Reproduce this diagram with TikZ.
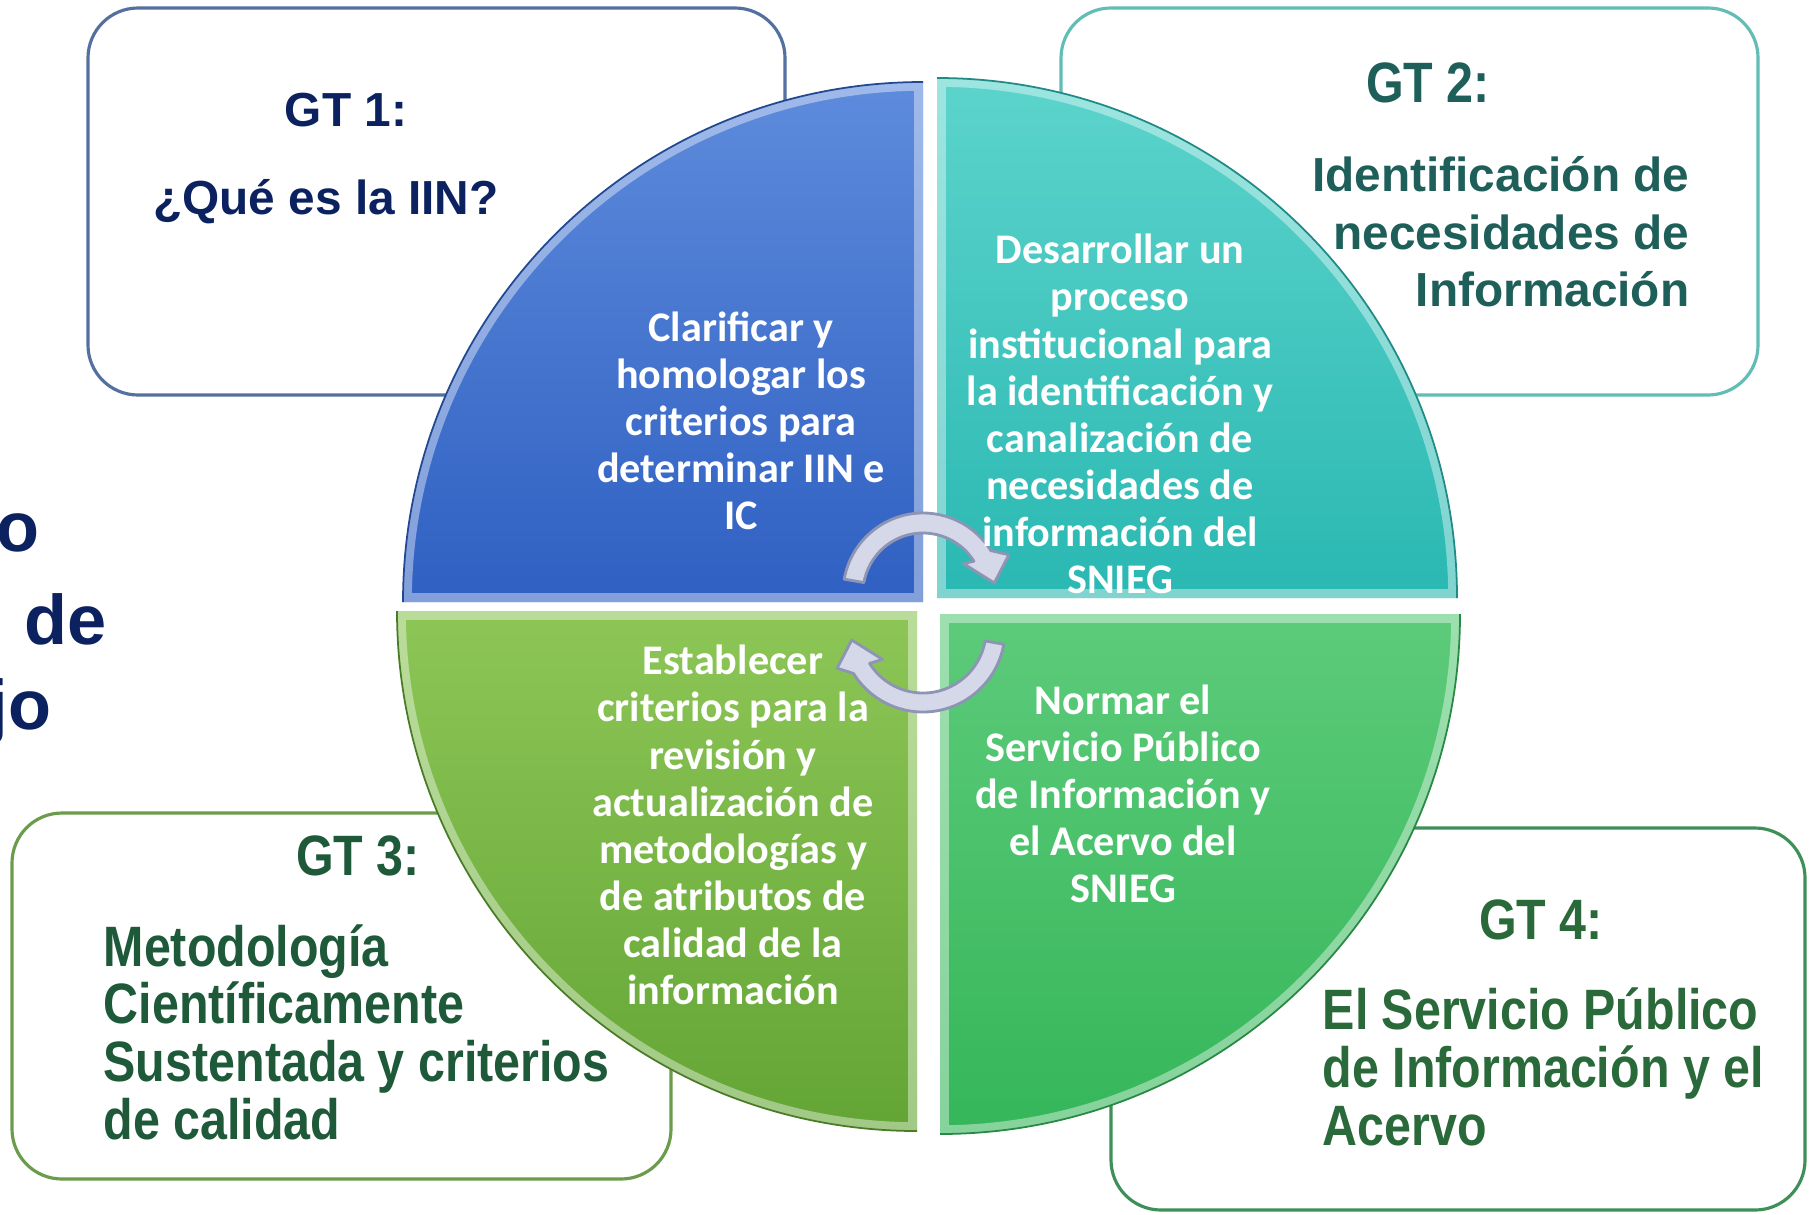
\documentclass[tikz,border=0pt]{standalone}
\usepackage{fontspec}
\setmainfont{Liberation Sans}
\newfontfamily\narrowfont[FakeStretch=0.85]{Liberation Sans}
\newfontfamily\quadfont{Carlito}
\usetikzlibrary{calc}
\definecolor{navy}{HTML}{0C2260}
\definecolor{gt1line}{HTML}{5470A0}
\definecolor{gt2line}{HTML}{62BDB5}
\definecolor{gt3line}{HTML}{6A9C4C}
\definecolor{gt4line}{HTML}{3E8F58}
\definecolor{gt2text}{HTML}{1F5F5A}
\definecolor{gt3text}{HTML}{1E5A3A}
\definecolor{gt4text}{HTML}{2A6A3A}
\definecolor{q1t}{HTML}{5E8BDC}
\definecolor{q1b}{HTML}{2F60C2}
\definecolor{q2t}{HTML}{5CD4CC}
\definecolor{q2b}{HTML}{2AB8B2}
\definecolor{q3t}{HTML}{8DC657}
\definecolor{q3b}{HTML}{63A535}
\definecolor{q4t}{HTML}{5DCB7A}
\definecolor{q4b}{HTML}{35B65A}
\definecolor{arrowfill}{HTML}{D5D8E8}
\definecolor{arrowedge}{HTML}{8E94B4}
\begin{document}
\begin{tikzpicture}[x=0.1mm, y=-0.1mm,
  box/.style={fill=white, line width=.9pt, rounded corners=5mm},
  head/.style={inner sep=0pt, font=\bfseries\fontsize{13.6}{16.4}\selectfont},
  narrow/.style={inner sep=0pt, font=\narrowfont\bfseries\fontsize{16.2}{16.4}\selectfont},
  title/.style={inner sep=0pt, text=navy, font=\bfseries\fontsize{20}{24}\selectfont},
  quadtext/.style={inner sep=0pt, text=white, align=center, font=\quadfont\bfseries\fontsize{12}{13.4}\selectfont},
  arrowband/.style={fill=arrowfill, draw=arrowedge, line width=.8pt, line join=round}]
\useasboundingbox (0,0) rectangle (1809,1214);
\clip (0,0) rectangle (1809,1214);
\fill[white] (0,0) rectangle (1809,1214);
% boxes behind the circle
\draw[box, draw=gt1line] (88,8) rectangle (785,395);
\draw[box, draw=gt2line] (1061,8) rectangle (1758,395);
\draw[box, draw=gt3line] (12,813) rectangle (671,1179);
\draw[box, draw=gt4line] (1111,828) rectangle (1805,1210);
% title cut at the left edge
\node[title, anchor=base east] (tit1) at (40,551) {o};
\node[title, anchor=base east] (tit2) at (107,644) {de};
\node[title, anchor=base east] (tit3) at (52,729) {jo};
% four quarters
\foreach \cx/\cy/\a/\ct/\cb in {923/602/180/q1t/q1b, 937/598/270/q2t/q2b, 940/614/0/q4t/q4b, 917/611/90/q3t/q3b} {
  \begin{scope}
    \clip (\cx,\cy) -- ++(\a:520) arc[start angle=\a, delta angle=90, radius=520] -- cycle;
    \shade[top color=\ct, bottom color=\cb] (\cx,\cy) -- ++(\a:520) arc[start angle=\a, delta angle=90, radius=520] -- cycle;
    \draw[white, opacity=.4, line width=5pt] (\cx,\cy) -- ++(\a:520) arc[start angle=\a, delta angle=90, radius=520] -- cycle;
  \end{scope}
  \draw[\cb!75!black, line width=.5pt] (\cx,\cy) ++(\a:520) arc[start angle=\a, delta angle=90, radius=520];
}
% round arrows
\coordinate (tc) at (923,593);
\coordinate (bc) at (923,630);
\filldraw[arrowband] ($(tc)+(190:80)$) arc[start angle=190, end angle=328, radius=80]
  -- ($(tc)+(336:94)$) -- ($(tc)+(352:72)$) -- ($(tc)+(324:50)$)
  -- ($(tc)+(328:60)$) arc[start angle=328, end angle=190, radius=60] -- cycle;
\filldraw[arrowband] ($(bc)+(10:82)$) arc[start angle=10, end angle=148, radius=82]
  -- ($(bc)+(156:94)$) -- ($(bc)+(172:72)$) -- ($(bc)+(144:50)$)
  -- ($(bc)+(148:63)$) arc[start angle=148, end angle=10, radius=63] -- cycle;
% texts in the quarters
\node[quadtext] (q1) at (741,421) {Clarificar y\\homologar los\\criterios para\\determinar IIN e\\IC};
\node[quadtext] (q2) at (1120,414) {Desarrollar un\\proceso\\institucional para\\la identificación y\\canalización de\\necesidades de\\información del\\SNIEG};
\node[quadtext] (q3) at (733,825) {Establecer\\criterios para la\\revisión y\\actualización de\\metodologías y\\de atributos de\\calidad de la\\información};
\node[quadtext] (q4) at (1123,794) {Normar el\\Servicio Público\\de Información y\\el Acervo del\\SNIEG};
% texts in the boxes
\node[head, text=navy] (gt1) at (346,110) {GT 1:};
\node[head, text=navy] (gt1txt) at (326,202) {¿Qué es la IIN?};
\node[narrow, text=gt2text] (gt2) at (1428,83) {GT 2:};
\node[head, text=gt2text, align=right, anchor=east] (gt2txt) at (1690,232) {Identificación de\\necesidades de\\Información};
\node[narrow, text=gt3text] (gt3) at (358,856) {GT 3:};
\node[narrow, text=gt3text, align=left, anchor=west] (gt3txt) at (103,1032) {Metodología\\Científicamente\\Sustentada y criterios\\de calidad};
\node[narrow, text=gt4text] (gt4) at (1541,920) {GT 4:};
\node[narrow, text=gt4text, align=left, anchor=west] (gt4txt) at (1322,1067) {El Servicio Público\\de Información y el\\Acervo};
\end{tikzpicture}
\end{document}
